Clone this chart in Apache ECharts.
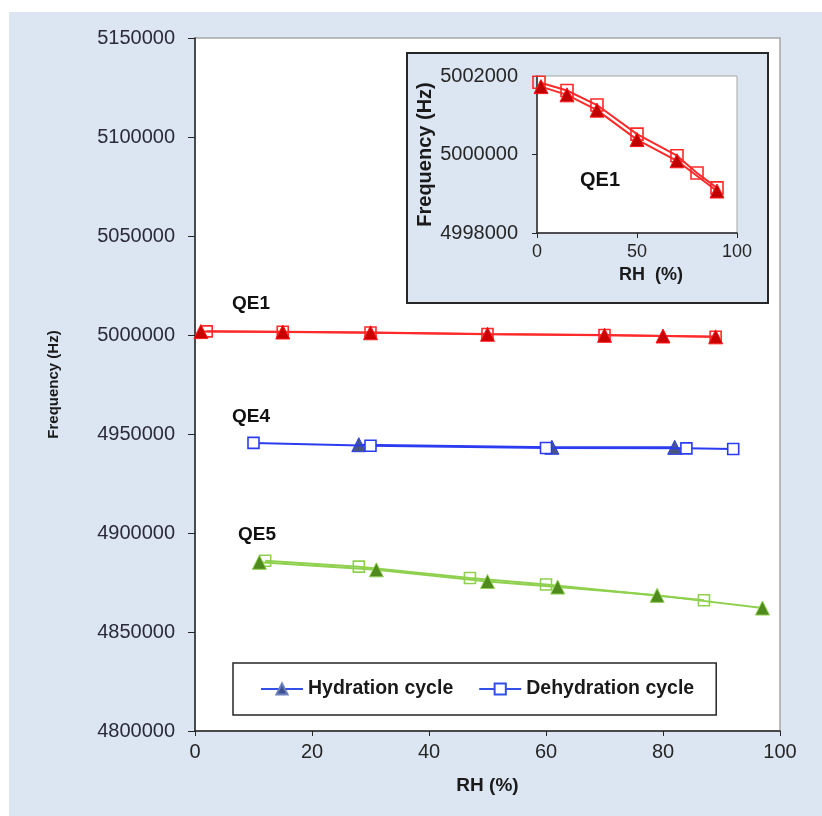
<!DOCTYPE html>
<html lang="en">
<head>
    <meta charset="UTF-8">
    <title></title>
    <style>
        * {
            margin: 0;
            padding: 0;
            box-sizing: border-box;
        }

        html, body {
            width: 822px;
            height: 816px;
            background: #ffffff;
            overflow: hidden;
        }

        #chart {
            width: 822px;
            height: 816px;
        }
    </style>
    <script type="text/javascript" src="https://cdn.jsdelivr.net/npm/echarts@6/dist/echarts.min.js"></script>
</head>
<body>
<div id="chart"></div>
<script type="text/javascript">
    // main plot, QE1
    var qe1HydRH = [1, 15, 30, 50, 70, 80, 89]
    var qe1Hyd = [5001730, 5001520, 5001130, 5000380, 4999840, 4999500, 4999070]
    var qe1DehRH = [2, 15, 30, 50, 70, 89]
    var qe1Deh = [5001840, 5001630, 5001260, 5000520, 4999970, 4999150]

    // main plot, QE4
    var qe4HydRH = [28, 61, 82]
    var qe4Hyd = [4944600, 4943300, 4943250]
    var qe4DehRH = [10, 30, 60, 84, 92]
    var qe4Deh = [4945500, 4944100, 4942900, 4942750, 4942450]

    // main plot, QE5
    var qe5HydRH = [11, 31, 50, 62, 79, 97]
    var qe5Hyd = [4885200, 4881400, 4875500, 4872700, 4868500, 4862100]
    var qe5DehRH = [12, 28, 47, 60, 87]
    var qe5Deh = [4886000, 4883000, 4877300, 4874000, 4866000]

    // inset, QE1 zoomed
    var insetHydRH = [2, 15, 30, 50, 70, 90]
    var insetHyd = [5001730, 5001520, 5001130, 5000380, 4999840, 4999070]
    var insetDehRH = [1, 15, 30, 50, 70, 80, 90]
    var insetDeh = [5001840, 5001630, 5001260, 5000520, 4999970, 4999530, 4999150]

    var legendNames = ['Hydration cycle', 'Dehydration cycle']
    var curveLabels = ['QE1', 'QE4', 'QE5']

    function pairs(xs, ys) {
        var out = []
        for (var i = 0; i < xs.length; i++) {
            out.push([xs[i], ys[i]])
        }
        return out
    }

    function plain(v) {
        return String(v)
    }

    var tickFont = 'Liberation Sans, Arial, sans-serif'

    function hydSeries(data, line, fill, edge, axis, z) {
        return {
            type: 'line',
            xAxisIndex: axis,
            yAxisIndex: axis,
            data: data,
            symbol: 'triangle',
            symbolSize: 14,
            lineStyle: {color: line, width: 2},
            itemStyle: {color: fill, borderColor: edge, borderWidth: 1},
            z: z,
            animation: false
        }
    }

    function dehSeries(data, line, fill, axis, z) {
        return {
            type: 'line',
            xAxisIndex: axis,
            yAxisIndex: axis,
            data: data,
            symbol: 'rect',
            symbolSize: axis ? 12 : 11,
            lineStyle: {color: line, width: 2},
            itemStyle: {color: fill, borderColor: line, borderWidth: 1.6},
            z: z,
            animation: false
        }
    }

    var red = '#ff2a2a'
    var blue = '#2b3cf0'
    var green = '#8fd14f'

    var series = [
        dehSeries(pairs(qe1DehRH, qe1Deh), red, 'rgba(255,255,255,0)', 0, 2),
        hydSeries(pairs(qe1HydRH, qe1Hyd), red, '#c80000', '#ff1a1a', 0, 3),
        hydSeries(pairs(qe4HydRH, qe4Hyd), blue, '#4a5680', '#2b3cf0', 0, 2),
        dehSeries(pairs(qe4DehRH, qe4Deh), blue, '#ffffff', 0, 3),
        dehSeries(pairs(qe5DehRH, qe5Deh), green, 'rgba(255,255,255,0)', 0, 2),
        hydSeries(pairs(qe5HydRH, qe5Hyd), green, '#4f8a1e', '#8fd14f', 0, 3),
        dehSeries(pairs(insetDehRH, insetDeh), red, 'rgba(255,255,255,0)', 1, 7),
        hydSeries(pairs(insetHydRH, insetHyd), red, '#c00000', '#ff1a1a', 1, 8),
        // legend only
        {
            type: 'line', name: legendNames[0], data: [], symbol: 'triangle', symbolSize: 12,
            lineStyle: {color: '#3350e8', width: 2},
            itemStyle: {color: '#3e5290', borderColor: '#6d80c0', borderWidth: 1}
        },
        {
            type: 'line', name: legendNames[1], data: [], symbol: 'rect', symbolSize: 11,
            lineStyle: {color: '#3350e8', width: 2},
            itemStyle: {color: '#ffffff', borderColor: '#3350e8', borderWidth: 1.6}
        }
    ]

    var myChart = echarts.init(document.getElementById('chart'))
    var option = {
        animation: false,
        textStyle: {fontFamily: tickFont},
        graphic: [
            {type: 'rect', z: -10, shape: {x: 9, y: 12, width: 813, height: 804}, style: {fill: '#dce6f2'}},
            {type: 'rect', z: 3, shape: {x: 407, y: 53, width: 361, height: 250},
                style: {fill: '#dce6f2', stroke: '#262626', lineWidth: 2}},
            {type: 'text', z: 9, x: 251, y: 304, style: {text: curveLabels[0], font: 'bold 19px Liberation Sans', fill: '#111', align: 'center', verticalAlign: 'middle'}},
            {type: 'text', z: 9, x: 251, y: 417, style: {text: curveLabels[1], font: 'bold 19px Liberation Sans', fill: '#111', align: 'center', verticalAlign: 'middle'}},
            {type: 'text', z: 9, x: 257, y: 535, style: {text: curveLabels[2], font: 'bold 19px Liberation Sans', fill: '#111', align: 'center', verticalAlign: 'middle'}},
            {type: 'text', z: 9, x: 600, y: 180, style: {text: curveLabels[0], font: 'bold 20px Liberation Sans', fill: '#111', align: 'center', verticalAlign: 'middle'}}
        ],
        legend: {
            data: legendNames,
            left: 233,
            top: 663,
            padding: [16, 22, 16, 27],
            itemWidth: 42,
            itemHeight: 14,
            itemGap: 25,
            backgroundColor: '#ffffff',
            borderColor: '#262626',
            borderWidth: 1.5,
            borderRadius: 0,
            textStyle: {fontFamily: tickFont, fontWeight: 'bold', fontSize: 19.5, color: '#1a1a1a'}
        },
        grid: [
            {
                left: 195, right: 42, top: 38, bottom: 85,
                show: true, backgroundColor: '#ffffff', borderColor: '#a6a6a6', borderWidth: 1.5, z: 0
            },
            {
                left: 537, top: 76, width: 200, height: 157,
                show: true, backgroundColor: '#ffffff', borderColor: '#a6a6a6', borderWidth: 1, z: 5
            }
        ],
        xAxis: [
            {
                type: 'value', gridIndex: 0, min: 0, max: 100, interval: 20,
                name: 'RH (%)', nameLocation: 'middle', nameGap: 45,
                nameTextStyle: {fontWeight: 'bold', fontSize: 19, color: '#1a1a1a'},
                axisLine: {lineStyle: {color: '#262626', width: 1.5}},
                axisTick: {show: true, inside: false, length: 5, lineStyle: {color: '#262626'}},
                axisLabel: {fontSize: 20, color: '#262626', margin: 11, formatter: plain},
                splitLine: {show: false}
            },
            {
                type: 'value', gridIndex: 1, min: 0, max: 100, interval: 50, z: 6,
                name: 'RH  (%)', nameLocation: 'middle', nameGap: 33,
                nameTextStyle: {fontWeight: 'bold', fontSize: 18, color: '#1a1a1a', padding: [0, 0, 0, 28]},
                axisLine: {lineStyle: {color: '#262626', width: 1.5}},
                axisTick: {show: true, inside: false, length: 5, lineStyle: {color: '#262626'}},
                axisLabel: {fontSize: 18, color: '#262626', margin: 10, formatter: plain},
                splitLine: {show: false}
            }
        ],
        yAxis: [
            {
                type: 'value', gridIndex: 0, min: 4800000, max: 5150000, interval: 50000,
                name: 'Frequency (Hz)', nameLocation: 'middle', nameGap: 134,
                nameTextStyle: {fontWeight: 'bold', fontSize: 15, color: '#1a1a1a'},
                axisLine: {show: true, lineStyle: {color: '#262626', width: 1.5}},
                axisTick: {show: true, inside: false, length: 7, lineStyle: {color: '#262626'}},
                axisLabel: {fontSize: 20, color: '#2a2a3a', margin: 20, formatter: plain},
                splitLine: {show: false}
            },
            {
                type: 'value', gridIndex: 1, min: 4998000, max: 5002000, interval: 2000, z: 6,
                name: 'Frequency (Hz)', nameLocation: 'middle', nameGap: 102,
                nameTextStyle: {fontWeight: 'bold', fontSize: 20, color: '#1a1a1a'},
                axisLine: {show: true, lineStyle: {color: '#262626', width: 1.5}},
                axisTick: {show: true, inside: false, length: 5, lineStyle: {color: '#262626'}},
                axisLabel: {fontSize: 20, color: '#262626', margin: 19, formatter: plain},
                splitLine: {show: false}
            }
        ],
        series: series
    }
    myChart.setOption(option)
</script>
</body>
</html>
